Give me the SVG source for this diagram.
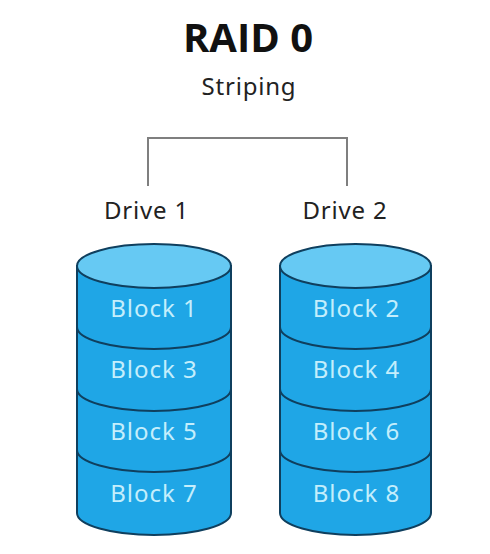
<svg xmlns="http://www.w3.org/2000/svg" width="490" height="554" viewBox="0 0 490 554">
<style>
text{font-family:"Noto Sans","Liberation Sans",sans-serif;text-anchor:middle}
.t{font-size:40px;font-weight:700;fill:#111;font-family:"Open Sans","Liberation Sans",sans-serif}
.l{font-size:24px;fill:#222;letter-spacing:.8px}
.b{font-size:24px;fill:#c4eefc;letter-spacing:1px}
.body{fill:#1fa6e6;stroke:#0f3f5e;stroke-width:2}
.top{fill:#66c9f3;stroke:#0f3f5e;stroke-width:2}
.sep{fill:none;stroke:#0f3f5e;stroke-width:2}
.c{fill:none;stroke:#7f7f7f;stroke-width:2}
</style>
<rect width="490" height="554" fill="#fff"/>
<g id="title"><text class="t" x="248" y="52">RAID 0</text><text class="l" x="249" y="95">Striping</text></g>
<g id="connectors"><path class="c" d="M148 186V138H347V186"/></g>
<g id="drive1">
<text class="l" x="146.500" y="219">Drive 1</text>
<path class="body" d="M77 266V513A77 22 0 0 0 231 513V266Z"/>
<path class="sep" d="M77 327A77 22 0 0 0 231 327M77 389A77 22 0 0 0 231 389M77 450A77 22 0 0 0 231 450"/>
<ellipse class="top" cx="154" cy="266" rx="77" ry="22"/>
<text class="b" x="154" y="317">Block 1</text>
<text class="b" x="154" y="378">Block 3</text>
<text class="b" x="154" y="440">Block 5</text>
<text class="b" x="154" y="502">Block 7</text>
</g>
<g id="drive2">
<text class="l" x="345" y="219">Drive 2</text>
<path class="body" d="M280 266V513A75.500 22 0 0 0 431 513V266Z"/>
<path class="sep" d="M280 327A75.500 22 0 0 0 431 327M280 389A75.500 22 0 0 0 431 389M280 450A75.500 22 0 0 0 431 450"/>
<ellipse class="top" cx="355.500" cy="266" rx="75.500" ry="22"/>
<text class="b" x="356.500" y="317">Block 2</text>
<text class="b" x="356.500" y="378">Block 4</text>
<text class="b" x="356.500" y="440">Block 6</text>
<text class="b" x="356.500" y="502">Block 8</text>
</g>
</svg>
